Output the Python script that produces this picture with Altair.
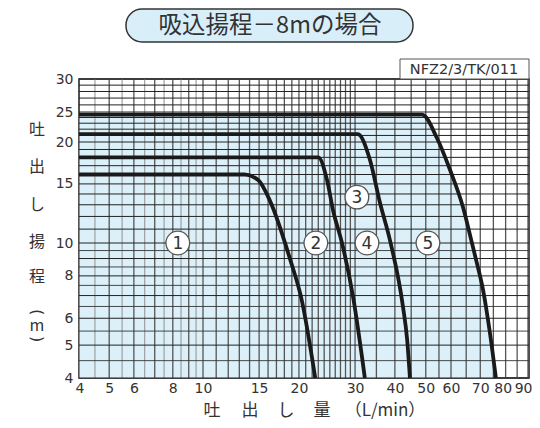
import altair as alt
import pandas as pd

# ---- data ----
c1_x = [4, 13.5, 14.9, 16.2, 18.8, 20.4, 22.5]
c1_y = [16, 16, 15.4, 13.4, 8.9, 6.8, 4]
c2_x = [4, 23.0, 24.5, 25.6, 27.3, 29.6, 32.2]
c2_y = [18, 18, 15.4, 12.5, 10, 6.9, 4]
c3_x = [4, 30.6, 33.4, 35.9, 38.6, 42.4, 43.7, 44.6]
c3_y = [21.2, 21.2, 17.7, 13.2, 10.2, 6.5, 5.2, 4]
c5_x = [4, 48.7, 54.2, 59.6, 63.9, 67.0, 68.5, 71.0, 73.7, 76.0]
c5_y = [24.5, 24.5, 20.6, 16.5, 12.8, 10.0, 8.9, 7.3, 5.4, 4]

lab_text = ["1", "2", "3", "4", "5"]
lab_x = [8.3, 22.6, 30.4, 32.7, 50.8]
lab_y = [10, 10, 13.7, 10, 10]

x_ticks = [4, 5, 6, 8, 10, 15, 20, 30, 40, 50, 60, 70, 80, 90]
y_ticks = [4, 5, 6, 8, 10, 15, 20, 25, 30]
x_grid_major = list(range(4, 31)) + list(range(35, 91, 5))
x_grid_minor = [4.5, 5.5, 6.5, 7.5, 8.5, 9.5]
y_grid_major = list(range(4, 31))
y_grid_minor = [4.5, 5.5, 6.5, 7.5, 8.5, 9.5]

title_text = "吸込揚程－8mの場合"
code_text = "NFZ2/3/TK/011"
ytitle_chars = ["吐", "出", "し", "揚", "程", "m"]
yparen_chars = ["(", ")"]
xtitle_parts = ["吐", "出", "し", "量", "（L/min）"]

# ---- tables ----
rows = []
for name, xs_, ys_ in [("1", c1_x, c1_y), ("2", c2_x, c2_y), ("3", c3_x, c3_y), ("5", c5_x, c5_y)]:
    for a, b in zip(xs_, ys_):
        rows.append({"curve": name, "x": a, "y": b})
curves = pd.DataFrame(rows)
env = pd.DataFrame({"x": c5_x, "y": c5_y})
labels = pd.DataFrame({"t": lab_text, "x": lab_x, "y": lab_y})
one = pd.DataFrame({"a": [0]})

W, H = 450, 299
FONT = "DejaVu Sans"
JP = "Noto Sans CJK JP"

xs = alt.Scale(type="log", domain=[4, 10, 60, 90], range=[0, 124, 372, 449], nice=False)
ys = alt.Scale(type="log", domain=[4, 10, 20, 25, 30], range=[299, 164, 63, 33, 0], nice=False)
xaxis = alt.Axis(values=x_ticks, title=None, ticks=False, domain=False, grid=False,
                 labelFontSize=14, labelFont=FONT, labelColor="#333", labelPadding=3,
                 labelOverlap=False, labelFlush=True, labelFlushOffset=4,
                 labelOffset={"condition": {"test": "datum.value == 80", "value": -3}, "value": 0})
yaxis = alt.Axis(values=y_ticks, title=None, ticks=False, domain=False, grid=False,
                 labelFontSize=14, labelFont=FONT, labelColor="#333", labelPadding=6,
                 labelOverlap=False, labelFlush=False)
X = alt.X("x:Q", scale=xs, axis=xaxis)
Y = alt.Y("y:Q", scale=ys, axis=yaxis)

fill = alt.Chart(env).mark_area(color="#dcf0fa", interpolate="monotone").encode(
    x=X, y=Y, y2=alt.datum(4))

vmaj = alt.Chart(pd.DataFrame({"x": x_grid_major})).mark_rule(color="#555", strokeWidth=1.3).encode(x=X)
vmin = alt.Chart(pd.DataFrame({"x": x_grid_minor})).mark_rule(color="#999", strokeWidth=1.1).encode(x=X)
hmaj = alt.Chart(pd.DataFrame({"y": y_grid_major})).mark_rule(color="#222", strokeWidth=1).encode(y=Y)
hmin = alt.Chart(pd.DataFrame({"y": y_grid_minor})).mark_rule(color="#333", strokeWidth=0.9).encode(y=Y)

lines = alt.Chart(curves).mark_line(color="#1a1a1a", strokeWidth=3.8, interpolate="monotone").encode(
    x=X, y=Y, detail="curve:N")

circ = alt.Chart(labels).mark_point(shape="circle", filled=True, fill="white", stroke="#555",
                                    strokeWidth=1.3, size=560, opacity=1).encode(x=X, y=Y)
ctext = alt.Chart(labels).mark_text(fontSize=17, font=FONT, color="#333", baseline="middle",
                                    dy=1).encode(x=X, y=Y, text="t:N")

# title box
tbox = alt.Chart(one).mark_rect(fill="#d8effa", stroke="#333", strokeWidth=1.5, cornerRadius=16).encode(
    x=alt.value(47), x2=alt.value(334), y=alt.value(-70), y2=alt.value(-37))
ttext = alt.Chart(one).mark_text(text=title_text, fontSize=23.5, font=JP, color="#333",
                                 baseline="middle").encode(x=alt.value(191), y=alt.value(-53))
cbox = alt.Chart(one).mark_rect(fill="white", stroke="#555", strokeWidth=1).encode(
    x=alt.value(321), x2=alt.value(450), y=alt.value(-20), y2=alt.value(0))
ctxt = alt.Chart(one).mark_text(text=code_text, fontSize=14.5, font=FONT, color="#333",
                                baseline="middle").encode(x=alt.value(385), y=alt.value(-9))

ytitle_y = [51, 88, 126, 163, 198, 247]
ydf = pd.DataFrame({"t": ytitle_chars, "py": ytitle_y})
ytitle = alt.Chart(ydf).mark_text(fontSize=16, font=JP, color="#333", baseline="middle").encode(
    x=alt.value(-42), y=alt.Y("py:Q", scale=None), text="t:N")
yparen_y = [233, 260]
pdf = pd.DataFrame({"t": yparen_chars, "py": yparen_y})
yparen = alt.Chart(pdf).mark_text(fontSize=16, font=FONT, color="#333", baseline="middle",
                                  angle=90).encode(
    x=alt.value(-42), y=alt.Y("py:Q", scale=None), text="t:N")

xtitle_x = [133, 171, 207, 243, 306]
xdf = pd.DataFrame({"t": xtitle_parts, "px": xtitle_x})
xtitle = alt.Chart(xdf).mark_text(fontSize=17, font=JP, color="#333", baseline="middle").encode(
    x=alt.X("px:Q", scale=None), y=alt.value(332), text="t:N")

chart = alt.layer(fill, vmin, vmaj, hmin, hmaj, lines, circ, ctext,
                  tbox, ttext, cbox, ctxt, ytitle, yparen, xtitle).properties(
    width=W, height=H,
    autosize=alt.AutoSizeParams(type="none"),
    padding={"left": 71, "top": 71, "right": 3, "bottom": 42},
    background="white",
).configure_view(stroke="#222", strokeWidth=1.6)

chart.save("out.html", embed_options={"renderer": "svg", "actions": False})
